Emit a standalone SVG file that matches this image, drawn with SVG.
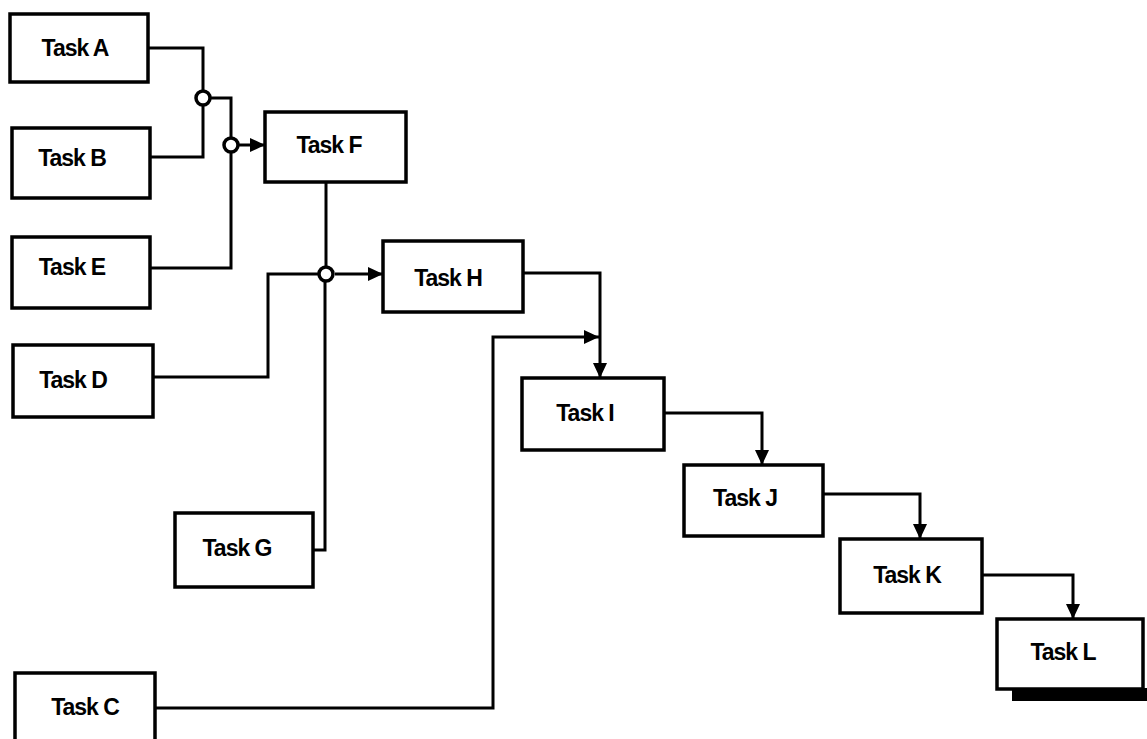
<svg xmlns="http://www.w3.org/2000/svg" width="1147" height="739" viewBox="0 0 1147 739">
<style>
.box{fill:#fff;stroke:#000;stroke-width:3.5}
.lbl{font-family:"Liberation Sans",Arial,sans-serif;font-weight:bold;font-size:23px;fill:#000;text-anchor:middle;letter-spacing:-1px}
.ln{fill:none;stroke:#000;stroke-width:3}
.arr{marker-end:url(#ah)}
.jn{fill:#fff;stroke:#000;stroke-width:3.5}
</style>
<defs>
<marker id="ah" markerUnits="userSpaceOnUse" markerWidth="16" markerHeight="16" refX="15" refY="8" orient="auto">
<path d="M0,1 L15,8 L0,15 z" fill="#000"/>
</marker>
</defs>
<rect width="1147" height="739" fill="#fff"/>
<g id="connectors">
<path class="ln" d="M148,48 H203 V90"/>
<path class="ln" d="M150,157 H203 V106"/>
<path class="ln" d="M211,98 H231 V137"/>
<path class="ln" d="M150,268 H231 V152"/>
<path class="ln arr" d="M239,145 H265"/>
<path class="ln" d="M326,182 V266"/>
<path class="ln" d="M153,377 H268 V274 H318"/>
<path class="ln" d="M313,550 H325 V282"/>
<path class="ln arr" d="M335,274 H383"/>
<path class="ln arr" d="M523,273 H600 V378"/>
<path class="ln arr" d="M155,708 H493 V337 H599"/>
<path class="ln arr" d="M664,413 H762 V465"/>
<path class="ln arr" d="M823,494 H920 V539"/>
<path class="ln arr" d="M982,575 H1073 V619"/>
<circle class="jn" cx="203" cy="98" r="7"/>
<circle class="jn" cx="231" cy="145" r="7"/>
<circle class="jn" cx="326" cy="274" r="7"/>
</g>
<g id="taskA"><rect class="box" x="10" y="14" width="138" height="68"/><text class="lbl" x="75" y="56">Task A</text></g>
<g id="taskB"><rect class="box" x="12" y="128" width="138" height="70"/><text class="lbl" x="72" y="166">Task B</text></g>
<g id="taskE"><rect class="box" x="12" y="237" width="138" height="71"/><text class="lbl" x="72" y="275">Task E</text></g>
<g id="taskD"><rect class="box" x="13" y="345" width="140" height="72"/><text class="lbl" x="73" y="388">Task D</text></g>
<g id="taskF"><rect class="box" x="265" y="112" width="141" height="70"/><text class="lbl" x="329" y="153">Task F</text></g>
<g id="taskG"><rect class="box" x="175" y="513" width="138" height="74"/><text class="lbl" x="237" y="556">Task G</text></g>
<g id="taskH"><rect class="box" x="383" y="241" width="140" height="71"/><text class="lbl" x="448" y="286">Task H</text></g>
<g id="taskC"><rect class="box" x="15" y="673" width="140" height="68"/><text class="lbl" x="85" y="715">Task C</text></g>
<g id="taskI"><rect class="box" x="522" y="378" width="142" height="72"/><text class="lbl" x="585" y="421">Task I</text></g>
<g id="taskJ"><rect class="box" x="684" y="465" width="139" height="71"/><text class="lbl" x="745" y="506">Task J</text></g>
<g id="taskK"><rect class="box" x="840" y="539" width="142" height="74"/><text class="lbl" x="907" y="583">Task K</text></g>
<g id="taskL"><rect x="1012" y="688" width="135" height="13" fill="#000"/><rect class="box" x="997" y="619" width="146" height="70"/><text class="lbl" x="1063" y="660">Task L</text></g>
</svg>
